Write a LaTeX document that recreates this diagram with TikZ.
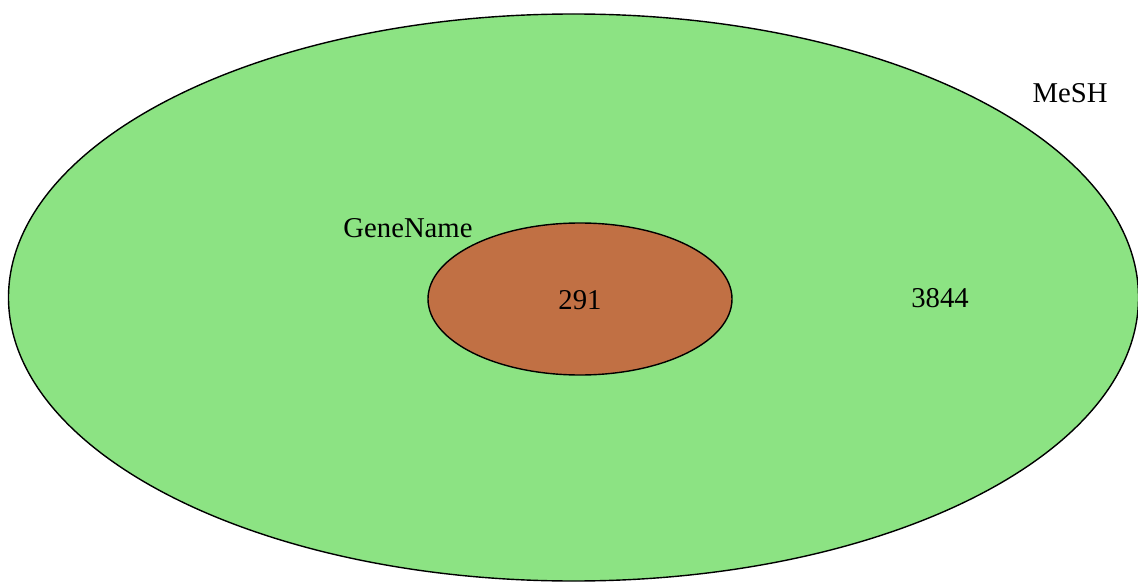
\documentclass[tikz,border=0pt]{standalone}
\usepackage{fontspec}
\setmainfont{Liberation Serif}
\usetikzlibrary{shapes.geometric}
\definecolor{meshgreen}{RGB}{140,227,131}
\definecolor{genebrown}{RGB}{193,112,68}
\tikzset{
  setshape/.style={ellipse, draw=black, line width=1.4pt, inner sep=0pt},
  lbl/.style={inner sep=0pt, font=\fontsize{28.7}{31}\selectfont}
}
\begin{document}
\begin{tikzpicture}[x=1pt,y=-1pt]
\useasboundingbox (0,0) rectangle (1138,583);
\node[setshape, fill=meshgreen, minimum width=1130pt, minimum height=567pt] (mesh) at (573.5,297.5) {};
\node[setshape, fill=genebrown, minimum width=304pt, minimum height=152pt] (gene) at (580,299) {};
\node[lbl, anchor=base] (meshlbl) at (1070,103) {MeSH};
\node[lbl, anchor=base] (genelbl) at (408,237) {GeneName};
\node[lbl] (n291) at (580,300) {291};
\node[lbl] (n3844) at (940,298.5) {3844};
\end{tikzpicture}
\end{document}
